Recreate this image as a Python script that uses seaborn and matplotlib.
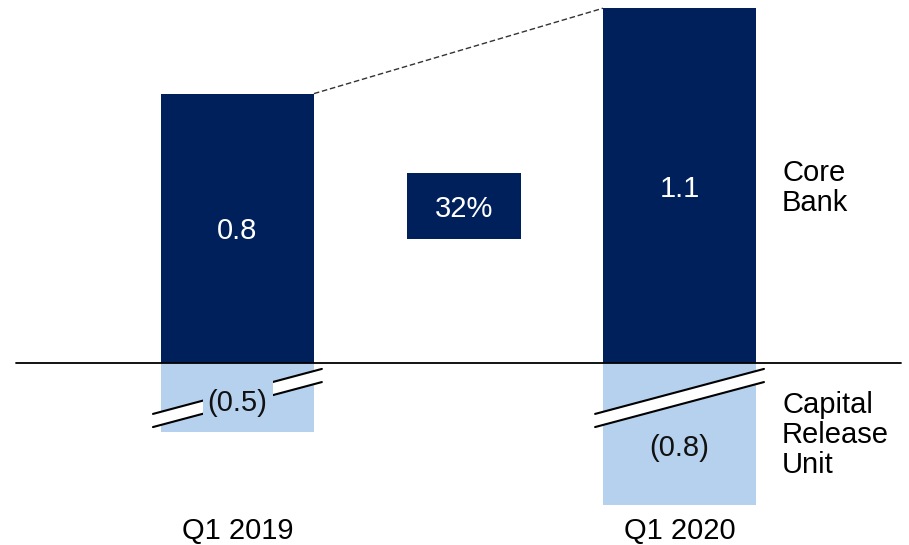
import matplotlib
matplotlib.use("Agg")
import matplotlib.pyplot as plt
import matplotlib.patches as mpatches
import seaborn as sns
import pandas as pd

# Data
quarters = ["Q1 2019", "Q1 2020"]
core_bank = [0.82, 1.08]
cru = [-0.5, -0.8]
# negative bars are drawn broken (not to scale)
cru_shown = [-0.21, -0.432]
growth_label = "32%"
series_labels = ["Core\nBank", "Capital\nRelease\nUnit"]

NAVY = "#00205B"
LIGHT = "#B5D1EE"

sns.set_style("white")
plt.rcParams["font.family"] = ["Liberation Sans", "DejaVu Sans"]

df_core = pd.DataFrame({"quarter": quarters, "value": core_bank})
df_cru = pd.DataFrame({"quarter": quarters, "value": cru_shown})

fig = plt.figure(figsize=(9.09, 5.45), dpi=100)
ax = fig.add_axes([0, 0, 1, 1])

bw = 0.346
sns.barplot(data=df_core, x="quarter", y="value", color=NAVY, width=bw,
            saturation=1, ax=ax, linewidth=0)
sns.barplot(data=df_cru, x="quarter", y="value", color=LIGHT, width=bw,
            saturation=1, ax=ax, linewidth=0)

ax.set_xlim(-0.537, 1.519)
ax.set_ylim(-0.554, 1.105)
ax.axis("off")

# zero line
ax.plot([-0.501, 1.501], [0, 0], color="black", lw=1.3, zorder=5)

fs = 21
dy = -0.009  # small downward nudge for text centring
# value labels on core bank bars
for i, v in enumerate(core_bank):
    ax.text(i, v / 2 + dy, f"{v:.1f}", color="white", fontsize=fs,
            ha="center", va="center", zorder=6)

# axis break marks on negative bars
for i in range(len(quarters)):
    x0, x1 = i - 0.191, i + 0.191
    up = [-0.155, -0.018]
    lo = [-0.195, -0.058]
    band = mpatches.Polygon([[x0, up[0]], [x1, up[1]], [x1, lo[1]], [x0, lo[0]]],
                            closed=True, facecolor="white", edgecolor="none", zorder=6)
    ax.add_patch(band)
    ax.plot([x0, x1], up, color="black", lw=1.5, zorder=7)
    ax.plot([x0, x1], lo, color="black", lw=1.5, zorder=7)

# label box interrupting the first break mark
ax.add_patch(mpatches.Rectangle((-0.078, -0.163), 0.158, 0.112,
                                facecolor=LIGHT, edgecolor="none", zorder=7.5))

cru_label_y = [-0.113, -0.25]
for i, v in enumerate(cru):
    ax.text(i, cru_label_y[i] + dy, f"({abs(v):.1f})", color="#111111", fontsize=fs,
            ha="center", va="center", zorder=8)

# dashed connector
ax.plot([bw / 2, 1 - bw / 2], core_bank, color="#333333", lw=1, ls=(0, (4, 2)), zorder=4)

# growth box
ax.add_patch(mpatches.Rectangle((0.512 - 0.129, 0.478 - 0.1), 0.258, 0.2,
                                facecolor=NAVY, edgecolor="none", zorder=5))
ax.text(0.512, 0.478 + dy, growth_label, color="white", fontsize=fs,
        ha="center", va="center", zorder=6)

# category labels
for i, q in enumerate(quarters):
    ax.text(i, -0.502 + dy, q, fontsize=fs, ha="center", va="center", color="black")

# series labels
ax.text(1.232, 0.542 + dy, series_labels[0], fontsize=fs, ha="left", va="center",
        linespacing=1.1, color="black")
ax.text(1.232, -0.21 + dy, series_labels[1], fontsize=fs, ha="left", va="center",
        linespacing=1.1, color="black")

fig.savefig("out.png", dpi=100)
